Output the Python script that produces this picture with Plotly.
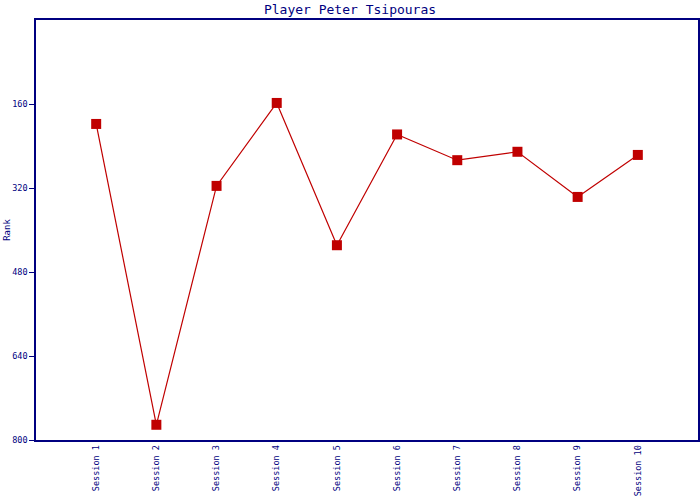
import plotly.graph_objects as go

sessions = ["Session 1", "Session 2", "Session 3", "Session 4", "Session 5",
            "Session 6", "Session 7", "Session 8", "Session 9", "Session 10"]
ranks = [198, 771, 316, 158, 429, 218, 267, 251, 337, 257]
y_ticks = [160, 320, 480, 640, 800]

navy = "#000080"
red = "#C00000"
font = "DejaVu Sans Mono"

fig = go.Figure()
fig.add_trace(go.Scatter(
    x=list(range(len(sessions))), y=ranks, mode="lines+markers",
    line=dict(color=red, width=1.2),
    marker=dict(symbol="square", size=10, color=red),
    showlegend=False,
))

fig.update_layout(
    width=700, height=500,
    margin=dict(l=36, r=2, t=20, b=60),
    paper_bgcolor="white", plot_bgcolor="white",
    title=dict(text="Player Peter Tsipouras", x=0.5, xanchor="center",
               yref="container", y=0.982, yanchor="middle",
               font=dict(family=font, size=13, color=navy)),
    font=dict(family=font, color=navy),
)
fig.update_xaxes(
    range=[-1, 10], tickmode="array", tickvals=list(range(len(sessions))),
    ticktext=sessions, tickangle=-90, tickfont=dict(family=font, size=8.5, color=navy),
    showgrid=False, zeroline=False, showline=True, linecolor=navy, linewidth=1.5,
    mirror=True, ticks="", automargin=False,
)
fig.update_yaxes(
    range=[800, 0], tickmode="array", tickvals=y_ticks,
    tickfont=dict(family=font, size=8.5, color=navy),
    title=dict(text="Rank", font=dict(family=font, size=9, color=navy), standoff=0),
    showgrid=False, zeroline=False, showline=True, linecolor=navy, linewidth=1.5,
    mirror=True, ticks="outside", ticklen=5, tickcolor=navy, automargin=False,
)

fig.write_html("out.html", config={"displayModeBar": False},
               post_script="document.body.style.margin='0';")
